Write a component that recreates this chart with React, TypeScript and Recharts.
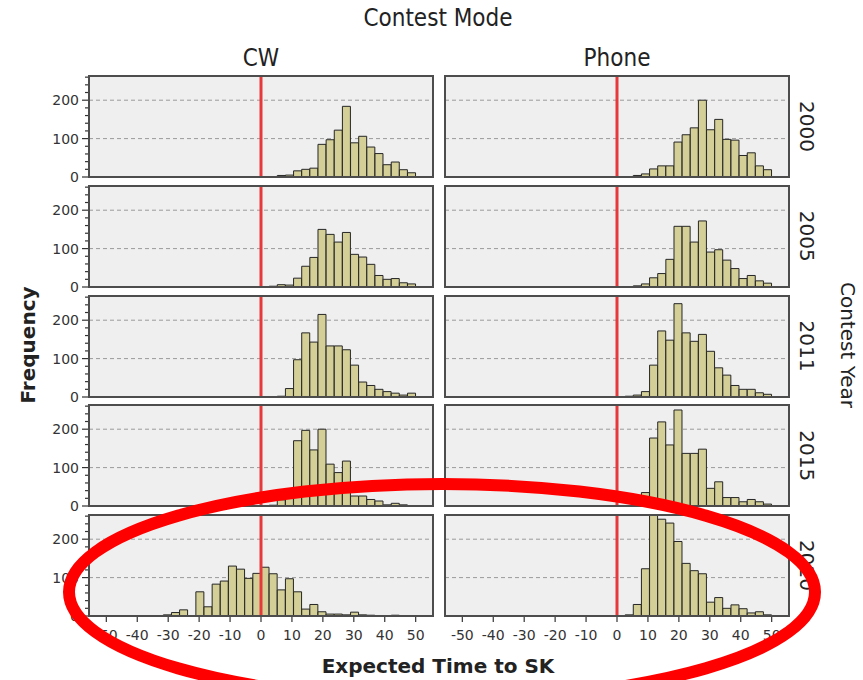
import { ComposedChart, Bar, XAxis, YAxis, CartesianGrid, ReferenceLine } from 'recharts'

// histogram bins: edges at multiples of BIN_WIDTH, values are counts per bin
const BIN_WIDTH = 50 / 19

const modes = ['CW', 'Phone']
const years = ['2000', '2005', '2011', '2015', '2020']
const xTicks = [-50, -40, -30, -20, -10, 0, 10, 20, 30, 40, 50]
const yTicks = [0, 20, 40, 60, 80, 100, 120, 140, 160, 180, 200, 220, 240, 260]
const yLabels = [0, 100, 200]
const gridValues = [100, 200]

// counts, CW column (first bin index in cwFirst)
const cw2000 = [4, 5, 16, 20, 23, 85, 97, 122, 184, 89, 106, 78, 61, 32, 39, 19, 11]
const cw2005 = [2, 6, 5, 23, 54, 77, 150, 137, 117, 142, 85, 78, 59, 30, 20, 22, 11, 8]
const cw2011 = [1, 2, 22, 97, 167, 143, 215, 133, 133, 123, 83, 39, 30, 20, 14, 10, 5, 10]
const cw2015 = [2, 16, 25, 170, 197, 146, 200, 109, 87, 117, 26, 26, 17, 13, 3, 7, 3, 1]
const cw2020 = [1, 1, 3, 9, 16, 0, 63, 24, 83, 91, 130, 122, 98, 111, 127, 110, 68, 97, 63, 18, 30, 11, 5, 5, 3, 10, 3, 2, 1, 0, 2]
const cwFirst = [2, 1, 1, 1, -14]

// counts, Phone column
const ph2000 = [1, 4, 8, 21, 29, 29, 91, 110, 128, 200, 123, 150, 98, 96, 56, 63, 29, 19]
const ph2005 = [1, 3, 8, 24, 35, 72, 158, 158, 117, 172, 91, 97, 70, 48, 22, 30, 16, 10]
const ph2011 = [1, 2, 5, 14, 83, 172, 148, 243, 167, 145, 163, 119, 76, 57, 30, 20, 20, 11, 7]
const ph2015 = [1, 4, 35, 177, 219, 159, 250, 137, 137, 148, 46, 63, 22, 22, 11, 17, 11, 5]
const ph2020 = [3, 30, 123, 270, 252, 242, 194, 137, 118, 110, 36, 48, 20, 29, 19, 8, 11, 3]
const phFirst = [1, 1, 0, 1, 1]

const cwSeries = [cw2000, cw2005, cw2011, cw2015, cw2020]
const phSeries = [ph2000, ph2005, ph2011, ph2015, ph2020]

const PLOT_W = 344
const PLOT_H = 101
const COL_LEFT = [89, 445]
const ROW_TOP = 76
const ROW_STEP = 109.75
const Y_W = 50
const X_H = 34
const PAD = 8
const FONT = '"DejaVu Sans", sans-serif'
const COND = '"DejaVu Sans Condensed", "DejaVu Sans", sans-serif'

function Panel({ counts, first, col, row }: { counts: number[]; first: number; col: number; row: number }) {
  const data = counts.map((c, i) => ({ x: (first + i + 0.5) * BIN_WIDTH, count: c }))
  const bottom = row === years.length - 1
  const yw = col === 0 ? Y_W : 0
  const left = COL_LEFT[col]
  const top = ROW_TOP + row * ROW_STEP
  const plotBottom = PAD + PLOT_H

  const yTick = (p: any) => {
    const major = yLabels.includes(p.payload.value)
    return (
      <g>
        <line x1={yw - (major ? 7 : 4)} x2={yw} y1={p.y} y2={p.y} stroke="#333" strokeWidth={1.2} />
        {major && (
          <text x={yw - 10} y={p.y} dy={5} textAnchor="end" fontSize={14} fill="#333" fontFamily={FONT}>
            {p.payload.value}
          </text>
        )}
      </g>
    )
  }

  const xTick = (p: any) => (
    <g>
      <line x1={p.x} x2={p.x} y1={plotBottom} y2={plotBottom + 6} stroke="#333" strokeWidth={1.2} />
      <text x={p.x} y={plotBottom + 24} textAnchor="middle" fontSize={14} fill="#333" fontFamily={FONT}>
        {p.payload.value}
      </text>
    </g>
  )

  return (
    <>
      <div style={{ position: 'absolute', left: left - yw, top: top - PAD }}>
        <ComposedChart
          width={yw + PLOT_W}
          height={PAD + PLOT_H + (bottom ? X_H : PAD)}
          data={data}
          margin={{ top: PAD, right: 0, bottom: bottom ? 0 : PAD, left: 0 }}
          barCategoryGap={0}
          barGap={0}
        >
          <CartesianGrid
            vertical={false}
            horizontalValues={gridValues}
            stroke="#9a9a9a"
            strokeDasharray="4 3"
            fill="#efefef"
            fillOpacity={1}
          />
          <XAxis
            type="number"
            dataKey="x"
            domain={[-55.6, 55.6]}
            ticks={xTicks}
            interval={0}
            allowDataOverflow
            hide={!bottom}
            height={bottom ? X_H : 0}
            axisLine={false}
            tickLine={false}
            tick={xTick}
          />
          <YAxis
            type="number"
            domain={[0, 263]}
            ticks={yTicks}
            interval={0}
            allowDataOverflow
            hide={col !== 0}
            width={yw}
            axisLine={false}
            tickLine={false}
            tick={yTick}
          />
          <Bar dataKey="count" fill="#d3cf96" stroke="#262626" strokeWidth={1} isAnimationActive={false} />
          <ReferenceLine x={0} stroke="#e8393a" strokeWidth={3} />
        </ComposedChart>
      </div>
      <div
        style={{
          position: 'absolute',
          left: left - 1,
          top: top - 1,
          width: PLOT_W + 2,
          height: PLOT_H + 2,
          boxSizing: 'border-box',
          border: '2px solid #4d4d4d',
          pointerEvents: 'none',
        }}
      />
    </>
  )
}

export default function App() {
  return (
    <div style={{ position: 'absolute', left: 0, top: 0, width: 863, height: 680, background: '#fff', overflow: 'hidden' }}>
      {years.map((y, r) => (
        <Panel key={'cw' + y} counts={cwSeries[r]} first={cwFirst[r]} col={0} row={r} />
      ))}
      {years.map((y, r) => (
        <Panel key={'ph' + y} counts={phSeries[r]} first={phFirst[r]} col={1} row={r} />
      ))}
      <svg width={863} height={680} style={{ position: 'absolute', left: 0, top: 0, pointerEvents: 'none' }}>
        <text x={438} y={26} textAnchor="middle" fontSize={24} fill="#222" fontFamily={COND}>
          Contest Mode
        </text>
        {modes.map((m, i) => (
          <text key={m} x={COL_LEFT[i] + PLOT_W / 2} y={66} textAnchor="middle" fontSize={24} fill="#222" fontFamily={COND}>
            {m}
          </text>
        ))}
        {years.map((y, r) => (
          <text
            key={y}
            transform={`translate(800, ${ROW_TOP + r * ROW_STEP + PLOT_H / 2}) rotate(90)`}
            textAnchor="middle"
            fontSize={20}
            fill="#222"
            fontFamily={FONT}
          >
            {y}
          </text>
        ))}
        <text transform="translate(841, 345) rotate(90)" textAnchor="middle" fontSize={20} fill="#222" fontFamily={FONT}>
          Contest Year
        </text>
        <text transform="translate(35, 345) rotate(-90)" textAnchor="middle" fontSize={20} fontWeight="bold" fill="#222" fontFamily={FONT}>
          Frequency
        </text>
        <text x={438} y={673} textAnchor="middle" fontSize={20} fontWeight="bold" fill="#222" fontFamily={FONT}>
          Expected Time to SK
        </text>
        <ellipse cx={442} cy={592} rx={373} ry={108} fill="none" stroke="#ff0000" strokeWidth={12} />
      </svg>
    </div>
  )
}
